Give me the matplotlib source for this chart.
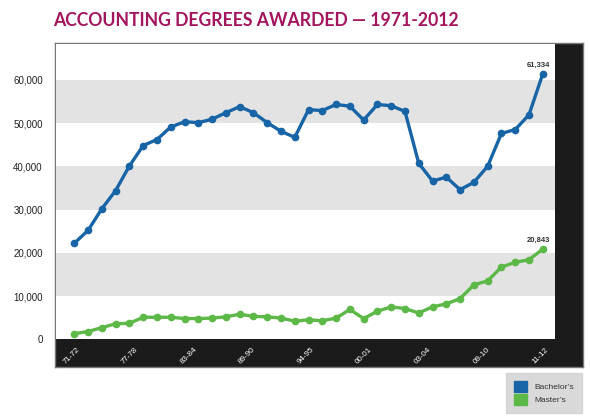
import matplotlib
matplotlib.use("Agg")
import matplotlib.pyplot as plt
import matplotlib.patches as mpatches
import numpy as np

# values (one point per reported year)
bachelors = [22200, 25200, 30200, 34400, 40100, 44800, 46200, 49100, 50300, 50100,
             50900, 52400, 53800, 52400, 50100, 48100, 46700, 53100, 52900, 54300,
             53900, 50700, 54300, 54000, 52700, 40700, 36600, 37500, 34600, 36300,
             40000, 47600, 48500, 51900, 61334]
masters = [1300, 1800, 2700, 3600, 3700, 5100, 5100, 5100, 4800, 4800,
           4900, 5200, 5800, 5300, 5200, 4900, 4200, 4500, 4300, 4900,
           6900, 4800, 6500, 7500, 7100, 6100, 7500, 8200, 9400, 12600,
           13500, 16700, 17800, 18400, 20843]
year_labels = ["71-72", "77-78", "83-84", "89-90", "94-95", "00-01", "03-04", "09-10", "11-12"]
series_names = ["Bachelor\u2019s", "Master\u2019s"]

blue = "#1764a6"
green = "#5cb847"
W, H = 590, 418

plt.rcParams["font.family"] = ["Liberation Sans", "DejaVu Sans"]
fig = plt.figure(figsize=(W / 100, H / 100), dpi=100)


def box(x0, y0, x1, y1):
    # pixel box (top-left origin) -> figure fraction rect
    return [x0 / W, 1 - y1 / H, (x1 - x0) / W, (y1 - y0) / H]


# black frame behind the plot (bottom strip + right strip)
frame = fig.add_axes(box(55, 43, 583, 367))
frame.set_facecolor("#1b1b1b")
frame.set_xticks([])
frame.set_yticks([])
for s in frame.spines.values():
    s.set_color("#777777")
    s.set_linewidth(1.0)

ax = fig.add_axes(box(56, 43.5, 555, 339.3))
ax.set_facecolor("white")
for s in ax.spines.values():
    s.set_visible(False)

for lo in (10000, 30000, 50000):
    ax.axhspan(lo, lo + 10000, color="#e3e3e3", lw=0, zorder=0)

x = np.arange(len(bachelors))
ax.plot(x, bachelors, color=blue, lw=2.4, marker="o", ms=4.5, zorder=3)
ax.plot(x, masters, color=green, lw=2.4, marker="o", ms=4.5, zorder=3)

ax.annotate(f"{bachelors[-1]:,}", (x[-1], bachelors[-1]), xytext=(-3, 4),
            textcoords="offset points", ha="center", va="bottom",
            fontsize=5.5, fontweight="bold", color="#333333")
ax.annotate(f"{masters[-1]:,}", (x[-1], masters[-1]), xytext=(-3, 4),
            textcoords="offset points", ha="center", va="bottom",
            fontsize=5.5, fontweight="bold", color="#333333")

ax.set_xlim(-1.33, len(x) - 1 + 0.89)
ax.set_ylim(0, 68400)

ax.set_yticks(np.arange(0, 60001, 10000))
ax.set_yticklabels([f"{v:,}" for v in range(0, 60001, 10000)])
ax.tick_params(axis="y", length=0, pad=9.5, labelsize=7, labelcolor="#222222")

ax.set_xticks(np.linspace(-0.2, len(x) - 1.2, len(year_labels)))
ax.set_xticklabels(year_labels, rotation=45, ha="center")
ax.tick_params(axis="x", length=0, pad=5, labelsize=5.8, labelcolor="white")

fig.text(53 / W, 1 - 20 / H, "ACCOUNTING DEGREES AWARDED \u2014 1971-2012",
         family=["Lato", "DejaVu Sans"], fontweight="bold", fontsize=12.7,
         color="#a3155e", ha="left", va="center")

handles = [mpatches.Patch(color=blue, label=series_names[0]),
           mpatches.Patch(color=green, label=series_names[1])]
leg = fig.legend(handles=handles, loc="upper right",
                 bbox_to_anchor=(582 / W, 1 - 373 / H), fontsize=6,
                 frameon=True, fancybox=False, handlelength=1.6, handleheight=1.6,
                 handletextpad=0.9, borderpad=0.95, labelspacing=0.3,
                 borderaxespad=0)
leg.get_frame().set_facecolor("#d0d0d0")
leg.get_frame().set_edgecolor("#d0d0d0")
for t in leg.get_texts():
    t.set_color("#333333")

fig.savefig("out.png", dpi=100)
